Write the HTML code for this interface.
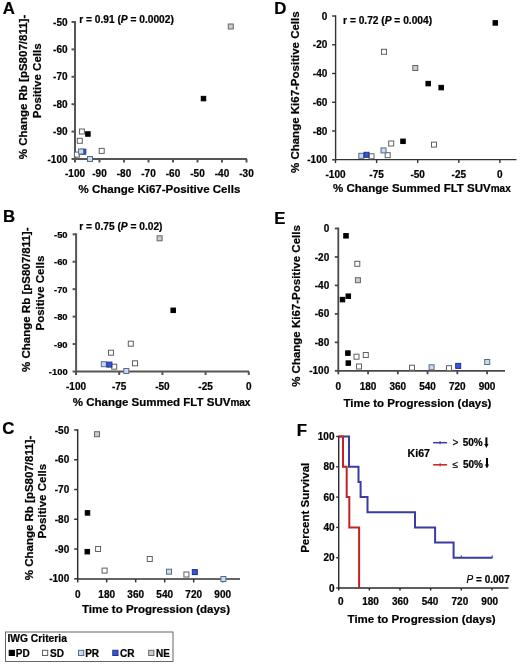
<!DOCTYPE html>
<html><head><meta charset="utf-8"><style>
html,body{margin:0;padding:0;background:#fff;}
svg{display:block;}
text{font-family:"Liberation Sans",sans-serif;fill:#000;stroke:#000;stroke-width:0.22px;}
</style></head><body>
<svg width="520" height="666" viewBox="0 0 520 666">
<defs><filter id="soft" filterUnits="userSpaceOnUse" x="0" y="0" width="520" height="666"><feGaussianBlur stdDeviation="0.35"/></filter></defs>
<rect width="520" height="666" fill="#fff"/>
<g filter="url(#soft)">
<text x="2.80" y="14.10" font-size="16.8" text-anchor="start" font-weight="bold" >A</text>
<text x="2.90" y="222.40" font-size="16.8" text-anchor="start" font-weight="bold" >B</text>
<text x="2.30" y="434.40" font-size="16.8" text-anchor="start" font-weight="bold" >C</text>
<text x="274.30" y="13.60" font-size="16.8" text-anchor="start" font-weight="bold" >D</text>
<text x="274.30" y="224.30" font-size="16.8" text-anchor="start" font-weight="bold" >E</text>
<text x="296.80" y="435.60" font-size="16.8" text-anchor="start" font-weight="bold" >F</text>
<line x1="75.00" y1="21.00" x2="75.00" y2="160.00" stroke="#555" stroke-width="2"/>
<line x1="74.00" y1="159.00" x2="247.00" y2="159.00" stroke="#555" stroke-width="2"/>
<line x1="71.50" y1="22.00" x2="75.00" y2="22.00" stroke="#555" stroke-width="2"/>
<text x="67.50" y="25.60" font-size="10" text-anchor="end" font-weight="bold" >-50</text>
<line x1="71.50" y1="49.40" x2="75.00" y2="49.40" stroke="#555" stroke-width="2"/>
<text x="67.50" y="53.00" font-size="10" text-anchor="end" font-weight="bold" >-60</text>
<line x1="71.50" y1="76.80" x2="75.00" y2="76.80" stroke="#555" stroke-width="2"/>
<text x="67.50" y="80.40" font-size="10" text-anchor="end" font-weight="bold" >-70</text>
<line x1="71.50" y1="104.20" x2="75.00" y2="104.20" stroke="#555" stroke-width="2"/>
<text x="67.50" y="107.80" font-size="10" text-anchor="end" font-weight="bold" >-80</text>
<line x1="71.50" y1="131.60" x2="75.00" y2="131.60" stroke="#555" stroke-width="2"/>
<text x="67.50" y="135.20" font-size="10" text-anchor="end" font-weight="bold" >-90</text>
<line x1="71.50" y1="159.00" x2="75.00" y2="159.00" stroke="#555" stroke-width="2"/>
<text x="67.50" y="162.60" font-size="10" text-anchor="end" font-weight="bold" >-100</text>
<line x1="75.00" y1="159.00" x2="75.00" y2="162.50" stroke="#555" stroke-width="2"/>
<text x="75.00" y="177.00" font-size="10" text-anchor="middle" font-weight="bold" >-100</text>
<line x1="99.50" y1="159.00" x2="99.50" y2="162.50" stroke="#555" stroke-width="2"/>
<text x="99.50" y="177.00" font-size="10" text-anchor="middle" font-weight="bold" >-90</text>
<line x1="124.00" y1="159.00" x2="124.00" y2="162.50" stroke="#555" stroke-width="2"/>
<text x="124.00" y="177.00" font-size="10" text-anchor="middle" font-weight="bold" >-80</text>
<line x1="148.50" y1="159.00" x2="148.50" y2="162.50" stroke="#555" stroke-width="2"/>
<text x="148.50" y="177.00" font-size="10" text-anchor="middle" font-weight="bold" >-70</text>
<line x1="173.00" y1="159.00" x2="173.00" y2="162.50" stroke="#555" stroke-width="2"/>
<text x="173.00" y="177.00" font-size="10" text-anchor="middle" font-weight="bold" >-60</text>
<line x1="197.50" y1="159.00" x2="197.50" y2="162.50" stroke="#555" stroke-width="2"/>
<text x="197.50" y="177.00" font-size="10" text-anchor="middle" font-weight="bold" >-50</text>
<line x1="222.00" y1="159.00" x2="222.00" y2="162.50" stroke="#555" stroke-width="2"/>
<text x="222.00" y="177.00" font-size="10" text-anchor="middle" font-weight="bold" >-40</text>
<line x1="246.50" y1="159.00" x2="246.50" y2="162.50" stroke="#555" stroke-width="2"/>
<text x="246.50" y="177.00" font-size="10" text-anchor="middle" font-weight="bold" >-30</text>
<text x="79.20" y="23.10" font-size="10.2" text-anchor="start" font-weight="bold" >r = 0.91 (<tspan font-style="italic">P</tspan> = 0.0002)</text>
<text x="78.60" y="193.00" font-size="11.5" text-anchor="start" font-weight="bold" >% Change Ki67-Positive Cells</text>
<text transform="translate(27.30,87.00) rotate(-90)" font-size="11.5" text-anchor="middle" font-weight="bold">% Change Rb [pS807/811]-</text>
<text transform="translate(40.60,80.80) rotate(-90)" font-size="11.5" text-anchor="middle" font-weight="bold">Positive Cells</text>
<rect x="79.40" y="129.00" width="5.00" height="5.00" fill="#ffffff" stroke="#606060" stroke-width="1"/>
<rect x="77.30" y="138.30" width="5.00" height="5.00" fill="#ffffff" stroke="#606060" stroke-width="1"/>
<rect x="74.40" y="152.10" width="5.00" height="5.00" fill="#ffffff" stroke="#606060" stroke-width="1"/>
<rect x="99.20" y="148.40" width="5.00" height="5.00" fill="#ffffff" stroke="#606060" stroke-width="1"/>
<rect x="85.65" y="131.75" width="4.50" height="4.50" fill="#000000" stroke="#000000" stroke-width="1"/>
<rect x="80.80" y="149.20" width="5.00" height="5.00" fill="#3557d4" stroke="#1f308e" stroke-width="1"/>
<rect x="78.50" y="149.00" width="5.00" height="5.00" fill="#c6dcf1" stroke="#596c86" stroke-width="1"/>
<rect x="87.50" y="156.50" width="5.00" height="5.00" fill="#c6dcf1" stroke="#596c86" stroke-width="1"/>
<rect x="228.30" y="24.00" width="5.00" height="5.00" fill="#cccccc" stroke="#666666" stroke-width="1"/>
<rect x="201.25" y="96.35" width="4.50" height="4.50" fill="#000000" stroke="#000000" stroke-width="1"/>
<line x1="76.10" y1="233.30" x2="76.10" y2="372.50" stroke="#555" stroke-width="2"/>
<line x1="75.10" y1="371.50" x2="249.00" y2="371.50" stroke="#555" stroke-width="2"/>
<line x1="72.60" y1="234.30" x2="76.10" y2="234.30" stroke="#555" stroke-width="2"/>
<text x="67.60" y="237.90" font-size="9.4" text-anchor="end" font-weight="bold" >-50</text>
<line x1="72.60" y1="261.74" x2="76.10" y2="261.74" stroke="#555" stroke-width="2"/>
<text x="67.60" y="265.34" font-size="9.4" text-anchor="end" font-weight="bold" >-60</text>
<line x1="72.60" y1="289.18" x2="76.10" y2="289.18" stroke="#555" stroke-width="2"/>
<text x="67.60" y="292.78" font-size="9.4" text-anchor="end" font-weight="bold" >-70</text>
<line x1="72.60" y1="316.62" x2="76.10" y2="316.62" stroke="#555" stroke-width="2"/>
<text x="67.60" y="320.22" font-size="9.4" text-anchor="end" font-weight="bold" >-80</text>
<line x1="72.60" y1="344.06" x2="76.10" y2="344.06" stroke="#555" stroke-width="2"/>
<text x="67.60" y="347.66" font-size="9.4" text-anchor="end" font-weight="bold" >-90</text>
<line x1="72.60" y1="371.50" x2="76.10" y2="371.50" stroke="#555" stroke-width="2"/>
<text x="67.60" y="375.10" font-size="9.4" text-anchor="end" font-weight="bold" >-100</text>
<line x1="76.00" y1="371.50" x2="76.00" y2="375.00" stroke="#555" stroke-width="2"/>
<text x="76.00" y="389.50" font-size="10" text-anchor="middle" font-weight="bold" >-100</text>
<line x1="119.20" y1="371.50" x2="119.20" y2="375.00" stroke="#555" stroke-width="2"/>
<text x="119.20" y="389.50" font-size="10" text-anchor="middle" font-weight="bold" >-75</text>
<line x1="162.40" y1="371.50" x2="162.40" y2="375.00" stroke="#555" stroke-width="2"/>
<text x="162.40" y="389.50" font-size="10" text-anchor="middle" font-weight="bold" >-50</text>
<line x1="205.60" y1="371.50" x2="205.60" y2="375.00" stroke="#555" stroke-width="2"/>
<text x="205.60" y="389.50" font-size="10" text-anchor="middle" font-weight="bold" >-25</text>
<line x1="248.80" y1="371.50" x2="248.80" y2="375.00" stroke="#555" stroke-width="2"/>
<text x="248.80" y="389.50" font-size="10" text-anchor="middle" font-weight="bold" >0</text>
<text x="79.20" y="229.80" font-size="10.2" text-anchor="start" font-weight="bold" >r = 0.75 (<tspan font-style="italic">P</tspan> = 0.02)</text>
<text x="72.80" y="405.80" font-size="11.5" text-anchor="start" font-weight="bold" >% Change Summed FLT SUV<tspan font-size="10">max</tspan></text>
<text transform="translate(30.40,299.70) rotate(-90)" font-size="11.5" text-anchor="middle" font-weight="bold">% Change Rb [pS807/811]-</text>
<text transform="translate(44.00,293.10) rotate(-90)" font-size="11.5" text-anchor="middle" font-weight="bold">Positive Cells</text>
<rect x="128.30" y="341.20" width="5.00" height="5.00" fill="#ffffff" stroke="#606060" stroke-width="1"/>
<rect x="108.50" y="350.20" width="5.00" height="5.00" fill="#ffffff" stroke="#606060" stroke-width="1"/>
<rect x="132.50" y="360.80" width="5.00" height="5.00" fill="#ffffff" stroke="#606060" stroke-width="1"/>
<rect x="101.30" y="361.70" width="5.00" height="5.00" fill="#c6dcf1" stroke="#596c86" stroke-width="1"/>
<rect x="111.70" y="364.20" width="5.00" height="5.00" fill="#ffffff" stroke="#606060" stroke-width="1"/>
<rect x="106.90" y="362.10" width="5.00" height="5.00" fill="#3557d4" stroke="#1f308e" stroke-width="1"/>
<rect x="123.80" y="368.50" width="5.00" height="5.00" fill="#c6dcf1" stroke="#596c86" stroke-width="1"/>
<rect x="170.95" y="308.05" width="4.50" height="4.50" fill="#000000" stroke="#000000" stroke-width="1"/>
<rect x="157.10" y="235.80" width="5.00" height="5.00" fill="#cccccc" stroke="#666666" stroke-width="1"/>
<line x1="77.70" y1="429.25" x2="77.70" y2="579.65" stroke="#333" stroke-width="1.5"/>
<line x1="76.95" y1="578.90" x2="240.00" y2="578.90" stroke="#333" stroke-width="1.5"/>
<line x1="74.20" y1="430.00" x2="77.70" y2="430.00" stroke="#333" stroke-width="1.5"/>
<text x="69.20" y="433.60" font-size="10" text-anchor="end" font-weight="bold" >-50</text>
<line x1="74.20" y1="459.76" x2="77.70" y2="459.76" stroke="#333" stroke-width="1.5"/>
<text x="69.20" y="463.36" font-size="10" text-anchor="end" font-weight="bold" >-60</text>
<line x1="74.20" y1="489.52" x2="77.70" y2="489.52" stroke="#333" stroke-width="1.5"/>
<text x="69.20" y="493.12" font-size="10" text-anchor="end" font-weight="bold" >-70</text>
<line x1="74.20" y1="519.28" x2="77.70" y2="519.28" stroke="#333" stroke-width="1.5"/>
<text x="69.20" y="522.88" font-size="10" text-anchor="end" font-weight="bold" >-80</text>
<line x1="74.20" y1="549.04" x2="77.70" y2="549.04" stroke="#333" stroke-width="1.5"/>
<text x="69.20" y="552.64" font-size="10" text-anchor="end" font-weight="bold" >-90</text>
<line x1="74.20" y1="578.80" x2="77.70" y2="578.80" stroke="#333" stroke-width="1.5"/>
<text x="69.20" y="582.40" font-size="10" text-anchor="end" font-weight="bold" >-100</text>
<line x1="77.70" y1="578.90" x2="77.70" y2="582.40" stroke="#333" stroke-width="1.5"/>
<text x="77.70" y="598.20" font-size="10" text-anchor="middle" font-weight="bold" >0</text>
<line x1="106.70" y1="578.90" x2="106.70" y2="582.40" stroke="#333" stroke-width="1.5"/>
<text x="106.70" y="598.20" font-size="10" text-anchor="middle" font-weight="bold" >180</text>
<line x1="135.70" y1="578.90" x2="135.70" y2="582.40" stroke="#333" stroke-width="1.5"/>
<text x="135.70" y="598.20" font-size="10" text-anchor="middle" font-weight="bold" >360</text>
<line x1="164.70" y1="578.90" x2="164.70" y2="582.40" stroke="#333" stroke-width="1.5"/>
<text x="164.70" y="598.20" font-size="10" text-anchor="middle" font-weight="bold" >540</text>
<line x1="193.70" y1="578.90" x2="193.70" y2="582.40" stroke="#333" stroke-width="1.5"/>
<text x="193.70" y="598.20" font-size="10" text-anchor="middle" font-weight="bold" >720</text>
<line x1="222.70" y1="578.90" x2="222.70" y2="582.40" stroke="#333" stroke-width="1.5"/>
<text x="222.70" y="598.20" font-size="10" text-anchor="middle" font-weight="bold" >900</text>
<text x="82.00" y="613.00" font-size="11.5" text-anchor="start" font-weight="bold" >Time to Progression (days)</text>
<text transform="translate(32.50,508.00) rotate(-90)" font-size="11.5" text-anchor="middle" font-weight="bold">% Change Rb [pS807/811]-</text>
<text transform="translate(46.00,501.20) rotate(-90)" font-size="11.5" text-anchor="middle" font-weight="bold">Positive Cells</text>
<rect x="94.50" y="431.70" width="5.00" height="5.00" fill="#cccccc" stroke="#666666" stroke-width="1"/>
<rect x="85.25" y="510.65" width="4.50" height="4.50" fill="#000000" stroke="#000000" stroke-width="1"/>
<rect x="85.05" y="549.45" width="4.50" height="4.50" fill="#000000" stroke="#000000" stroke-width="1"/>
<rect x="95.60" y="546.50" width="5.00" height="5.00" fill="#ffffff" stroke="#606060" stroke-width="1"/>
<rect x="102.10" y="568.10" width="5.00" height="5.00" fill="#ffffff" stroke="#606060" stroke-width="1"/>
<rect x="147.30" y="556.50" width="5.00" height="5.00" fill="#ffffff" stroke="#606060" stroke-width="1"/>
<rect x="166.50" y="569.20" width="5.00" height="5.00" fill="#c6dcf1" stroke="#596c86" stroke-width="1"/>
<rect x="183.90" y="572.00" width="5.00" height="5.00" fill="#ffffff" stroke="#606060" stroke-width="1"/>
<rect x="192.30" y="569.60" width="5.00" height="5.00" fill="#3557d4" stroke="#1f308e" stroke-width="1"/>
<rect x="220.90" y="576.50" width="5.00" height="5.00" fill="#c6dcf1" stroke="#596c86" stroke-width="1"/>
<line x1="335.60" y1="15.30" x2="335.60" y2="160.30" stroke="#333" stroke-width="1.4"/>
<line x1="334.90" y1="159.60" x2="516.50" y2="159.60" stroke="#333" stroke-width="1.4"/>
<line x1="332.10" y1="16.00" x2="335.60" y2="16.00" stroke="#333" stroke-width="1.4"/>
<text x="327.30" y="19.60" font-size="10" text-anchor="end" font-weight="bold" >0</text>
<line x1="332.10" y1="44.76" x2="335.60" y2="44.76" stroke="#333" stroke-width="1.4"/>
<text x="327.30" y="48.36" font-size="10" text-anchor="end" font-weight="bold" >-20</text>
<line x1="332.10" y1="73.52" x2="335.60" y2="73.52" stroke="#333" stroke-width="1.4"/>
<text x="327.30" y="77.12" font-size="10" text-anchor="end" font-weight="bold" >-40</text>
<line x1="332.10" y1="102.28" x2="335.60" y2="102.28" stroke="#333" stroke-width="1.4"/>
<text x="327.30" y="105.88" font-size="10" text-anchor="end" font-weight="bold" >-60</text>
<line x1="332.10" y1="131.04" x2="335.60" y2="131.04" stroke="#333" stroke-width="1.4"/>
<text x="327.30" y="134.64" font-size="10" text-anchor="end" font-weight="bold" >-80</text>
<line x1="332.10" y1="159.80" x2="335.60" y2="159.80" stroke="#333" stroke-width="1.4"/>
<text x="327.30" y="163.40" font-size="10" text-anchor="end" font-weight="bold" >-100</text>
<line x1="335.50" y1="159.60" x2="335.50" y2="163.10" stroke="#333" stroke-width="1.4"/>
<text x="335.50" y="178.00" font-size="10" text-anchor="middle" font-weight="bold" >-100</text>
<line x1="376.60" y1="159.60" x2="376.60" y2="163.10" stroke="#333" stroke-width="1.4"/>
<text x="376.60" y="178.00" font-size="10" text-anchor="middle" font-weight="bold" >-75</text>
<line x1="417.70" y1="159.60" x2="417.70" y2="163.10" stroke="#333" stroke-width="1.4"/>
<text x="417.70" y="178.00" font-size="10" text-anchor="middle" font-weight="bold" >-50</text>
<line x1="458.80" y1="159.60" x2="458.80" y2="163.10" stroke="#333" stroke-width="1.4"/>
<text x="458.80" y="178.00" font-size="10" text-anchor="middle" font-weight="bold" >-25</text>
<line x1="499.90" y1="159.60" x2="499.90" y2="163.10" stroke="#333" stroke-width="1.4"/>
<text x="499.90" y="178.00" font-size="10" text-anchor="middle" font-weight="bold" >0</text>
<text x="343.10" y="23.70" font-size="10.2" text-anchor="start" font-weight="bold" >r = 0.72 (<tspan font-style="italic">P</tspan> = 0.004)</text>
<text x="333.10" y="192.40" font-size="11.5" text-anchor="start" font-weight="bold" >% Change Summed FLT SUV<tspan font-size="10">max</tspan></text>
<text transform="translate(299.00,92.20) rotate(-90)" font-size="11.5" text-anchor="middle" font-weight="bold">% Change Ki67-Positive Cells</text>
<rect x="381.50" y="49.30" width="5.00" height="5.00" fill="#ffffff" stroke="#606060" stroke-width="1"/>
<rect x="388.70" y="141.00" width="5.00" height="5.00" fill="#ffffff" stroke="#606060" stroke-width="1"/>
<rect x="431.50" y="142.10" width="5.00" height="5.00" fill="#ffffff" stroke="#606060" stroke-width="1"/>
<rect x="369.00" y="153.80" width="5.00" height="5.00" fill="#ffffff" stroke="#606060" stroke-width="1"/>
<rect x="385.20" y="152.70" width="5.00" height="5.00" fill="#ffffff" stroke="#606060" stroke-width="1"/>
<rect x="358.80" y="153.30" width="5.00" height="5.00" fill="#c6dcf1" stroke="#596c86" stroke-width="1"/>
<rect x="364.00" y="152.30" width="5.00" height="5.00" fill="#3557d4" stroke="#1f308e" stroke-width="1"/>
<rect x="381.00" y="147.90" width="5.00" height="5.00" fill="#c6dcf1" stroke="#596c86" stroke-width="1"/>
<rect x="400.75" y="139.05" width="4.50" height="4.50" fill="#000000" stroke="#000000" stroke-width="1"/>
<rect x="493.05" y="20.65" width="4.50" height="4.50" fill="#000000" stroke="#000000" stroke-width="1"/>
<rect x="412.80" y="65.50" width="5.00" height="5.00" fill="#cccccc" stroke="#666666" stroke-width="1"/>
<rect x="425.95" y="81.35" width="4.50" height="4.50" fill="#000000" stroke="#000000" stroke-width="1"/>
<rect x="438.95" y="85.35" width="4.50" height="4.50" fill="#000000" stroke="#000000" stroke-width="1"/>
<line x1="338.30" y1="227.60" x2="338.30" y2="371.70" stroke="#4a4a4a" stroke-width="1.8"/>
<line x1="337.40" y1="370.80" x2="505.00" y2="370.80" stroke="#4a4a4a" stroke-width="1.8"/>
<line x1="334.80" y1="228.50" x2="338.30" y2="228.50" stroke="#4a4a4a" stroke-width="1.8"/>
<text x="329.20" y="232.10" font-size="10" text-anchor="end" font-weight="bold" >0</text>
<line x1="334.80" y1="256.96" x2="338.30" y2="256.96" stroke="#4a4a4a" stroke-width="1.8"/>
<text x="329.20" y="260.56" font-size="10" text-anchor="end" font-weight="bold" >-20</text>
<line x1="334.80" y1="285.42" x2="338.30" y2="285.42" stroke="#4a4a4a" stroke-width="1.8"/>
<text x="329.20" y="289.02" font-size="10" text-anchor="end" font-weight="bold" >-40</text>
<line x1="334.80" y1="313.88" x2="338.30" y2="313.88" stroke="#4a4a4a" stroke-width="1.8"/>
<text x="329.20" y="317.48" font-size="10" text-anchor="end" font-weight="bold" >-60</text>
<line x1="334.80" y1="342.34" x2="338.30" y2="342.34" stroke="#4a4a4a" stroke-width="1.8"/>
<text x="329.20" y="345.94" font-size="10" text-anchor="end" font-weight="bold" >-80</text>
<line x1="334.80" y1="370.80" x2="338.30" y2="370.80" stroke="#4a4a4a" stroke-width="1.8"/>
<text x="329.20" y="374.40" font-size="10" text-anchor="end" font-weight="bold" >-100</text>
<line x1="338.30" y1="370.80" x2="338.30" y2="374.30" stroke="#4a4a4a" stroke-width="1.8"/>
<text x="338.30" y="390.20" font-size="10" text-anchor="middle" font-weight="bold" >0</text>
<line x1="368.06" y1="370.80" x2="368.06" y2="374.30" stroke="#4a4a4a" stroke-width="1.8"/>
<text x="368.06" y="390.20" font-size="10" text-anchor="middle" font-weight="bold" >180</text>
<line x1="397.82" y1="370.80" x2="397.82" y2="374.30" stroke="#4a4a4a" stroke-width="1.8"/>
<text x="397.82" y="390.20" font-size="10" text-anchor="middle" font-weight="bold" >360</text>
<line x1="427.58" y1="370.80" x2="427.58" y2="374.30" stroke="#4a4a4a" stroke-width="1.8"/>
<text x="427.58" y="390.20" font-size="10" text-anchor="middle" font-weight="bold" >540</text>
<line x1="457.34" y1="370.80" x2="457.34" y2="374.30" stroke="#4a4a4a" stroke-width="1.8"/>
<text x="457.34" y="390.20" font-size="10" text-anchor="middle" font-weight="bold" >720</text>
<line x1="487.10" y1="370.80" x2="487.10" y2="374.30" stroke="#4a4a4a" stroke-width="1.8"/>
<text x="487.10" y="390.20" font-size="10" text-anchor="middle" font-weight="bold" >900</text>
<text x="343.40" y="406.70" font-size="11.5" text-anchor="start" font-weight="bold" >Time to Progression (days)</text>
<text transform="translate(300.00,306.00) rotate(-90)" font-size="11.5" text-anchor="middle" font-weight="bold">% Change Ki67-Positive Cells</text>
<rect x="343.75" y="233.55" width="4.50" height="4.50" fill="#000000" stroke="#000000" stroke-width="1"/>
<rect x="354.80" y="261.30" width="5.00" height="5.00" fill="#ffffff" stroke="#606060" stroke-width="1"/>
<rect x="355.40" y="277.70" width="5.00" height="5.00" fill="#cccccc" stroke="#666666" stroke-width="1"/>
<rect x="340.25" y="297.35" width="4.50" height="4.50" fill="#000000" stroke="#000000" stroke-width="1"/>
<rect x="346.05" y="293.95" width="4.50" height="4.50" fill="#000000" stroke="#000000" stroke-width="1"/>
<rect x="345.65" y="350.85" width="4.50" height="4.50" fill="#000000" stroke="#000000" stroke-width="1"/>
<rect x="346.05" y="360.85" width="4.50" height="4.50" fill="#000000" stroke="#000000" stroke-width="1"/>
<rect x="354.00" y="354.20" width="5.00" height="5.00" fill="#ffffff" stroke="#606060" stroke-width="1"/>
<rect x="363.30" y="352.50" width="5.00" height="5.00" fill="#ffffff" stroke="#606060" stroke-width="1"/>
<rect x="356.50" y="364.00" width="5.00" height="5.00" fill="#ffffff" stroke="#606060" stroke-width="1"/>
<rect x="409.50" y="365.20" width="5.00" height="5.00" fill="#ffffff" stroke="#606060" stroke-width="1"/>
<rect x="429.10" y="364.80" width="5.00" height="5.00" fill="#c6dcf1" stroke="#596c86" stroke-width="1"/>
<rect x="446.50" y="365.70" width="5.00" height="5.00" fill="#ffffff" stroke="#606060" stroke-width="1"/>
<rect x="455.70" y="363.40" width="5.00" height="5.00" fill="#3557d4" stroke="#1f308e" stroke-width="1"/>
<rect x="484.70" y="359.50" width="5.00" height="5.00" fill="#c6dcf1" stroke="#596c86" stroke-width="1"/>
<line x1="338.70" y1="435.80" x2="338.70" y2="588.70" stroke="#2a2a2a" stroke-width="1.4"/>
<line x1="338.00" y1="588.00" x2="508.50" y2="588.00" stroke="#2a2a2a" stroke-width="1.4"/>
<line x1="336.20" y1="436.50" x2="338.70" y2="436.50" stroke="#2a2a2a" stroke-width="1.4"/>
<text x="334.50" y="440.10" font-size="10" text-anchor="end" font-weight="bold" >100</text>
<line x1="336.20" y1="466.80" x2="338.70" y2="466.80" stroke="#2a2a2a" stroke-width="1.4"/>
<text x="334.50" y="470.40" font-size="10" text-anchor="end" font-weight="bold" >80</text>
<line x1="336.20" y1="497.10" x2="338.70" y2="497.10" stroke="#2a2a2a" stroke-width="1.4"/>
<text x="334.50" y="500.70" font-size="10" text-anchor="end" font-weight="bold" >60</text>
<line x1="336.20" y1="527.40" x2="338.70" y2="527.40" stroke="#2a2a2a" stroke-width="1.4"/>
<text x="334.50" y="531.00" font-size="10" text-anchor="end" font-weight="bold" >40</text>
<line x1="336.20" y1="557.70" x2="338.70" y2="557.70" stroke="#2a2a2a" stroke-width="1.4"/>
<text x="334.50" y="561.30" font-size="10" text-anchor="end" font-weight="bold" >20</text>
<line x1="336.20" y1="588.00" x2="338.70" y2="588.00" stroke="#2a2a2a" stroke-width="1.4"/>
<text x="334.50" y="591.60" font-size="10" text-anchor="end" font-weight="bold" >0</text>
<line x1="338.70" y1="588.00" x2="338.70" y2="590.50" stroke="#2a2a2a" stroke-width="1.4"/>
<text x="338.70" y="605.20" font-size="10" text-anchor="middle" font-weight="bold" ></text>
<line x1="369.35" y1="588.00" x2="369.35" y2="590.50" stroke="#2a2a2a" stroke-width="1.4"/>
<text x="369.35" y="605.20" font-size="10" text-anchor="middle" font-weight="bold" ></text>
<line x1="400.00" y1="588.00" x2="400.00" y2="590.50" stroke="#2a2a2a" stroke-width="1.4"/>
<text x="400.00" y="605.20" font-size="10" text-anchor="middle" font-weight="bold" ></text>
<line x1="430.65" y1="588.00" x2="430.65" y2="590.50" stroke="#2a2a2a" stroke-width="1.4"/>
<text x="430.65" y="605.20" font-size="10" text-anchor="middle" font-weight="bold" ></text>
<line x1="461.30" y1="588.00" x2="461.30" y2="590.50" stroke="#2a2a2a" stroke-width="1.4"/>
<text x="461.30" y="605.20" font-size="10" text-anchor="middle" font-weight="bold" ></text>
<line x1="491.95" y1="588.00" x2="491.95" y2="590.50" stroke="#2a2a2a" stroke-width="1.4"/>
<text x="491.95" y="605.20" font-size="10" text-anchor="middle" font-weight="bold" ></text>
<text x="340.70" y="605.20" font-size="10" text-anchor="middle" font-weight="bold" >0</text>
<text x="370.50" y="605.20" font-size="10" text-anchor="middle" font-weight="bold" >180</text>
<text x="400.30" y="605.20" font-size="10" text-anchor="middle" font-weight="bold" >360</text>
<text x="430.10" y="605.20" font-size="10" text-anchor="middle" font-weight="bold" >540</text>
<text x="459.90" y="605.20" font-size="10" text-anchor="middle" font-weight="bold" >720</text>
<text x="489.70" y="605.20" font-size="10" text-anchor="middle" font-weight="bold" >900</text>
<polyline fill="none" stroke-width="2" stroke-linejoin="miter" stroke="#3a3aa6" points="338.70,436.50 349.00,436.50 349.00,466.80 358.50,466.80 358.50,481.95 360.60,481.95 360.60,497.10 367.50,497.10 367.50,512.25 415.00,512.25 415.00,527.40 435.10,527.40 435.10,542.55 453.60,542.55 453.60,557.70 492.40,557.70"/>
<polyline fill="none" stroke-width="2" stroke-linejoin="miter" stroke="#c42424" points="338.70,436.50 343.00,436.50 343.00,466.80 346.70,466.80 346.70,497.10 349.30,497.10 349.30,527.40 359.10,527.40 359.10,588.00"/>
<line x1="461.30" y1="555.50" x2="461.30" y2="557.70" stroke="#3a3aa6" stroke-width="1.2"/>
<line x1="492.20" y1="555.50" x2="492.20" y2="557.70" stroke="#3a3aa6" stroke-width="1.2"/>
<line x1="433.10" y1="442.70" x2="447.10" y2="442.70" stroke="#3a3aa6" stroke-width="1.5"/>
<line x1="440.10" y1="441.00" x2="440.10" y2="444.40" stroke="#3a3aa6" stroke-width="1"/>
<line x1="433.10" y1="464.80" x2="447.10" y2="464.80" stroke="#c42424" stroke-width="1.5"/>
<line x1="440.10" y1="463.10" x2="440.10" y2="466.50" stroke="#c42424" stroke-width="1"/>
<text x="452.60" y="446.20" font-size="10" text-anchor="start" font-weight="normal" >&gt;</text>
<text x="462.70" y="446.40" font-size="10" text-anchor="start" font-weight="bold" >50%</text>
<text x="452.60" y="468.10" font-size="10" text-anchor="start" font-weight="normal" >&#8804;</text>
<text x="462.90" y="468.40" font-size="10" text-anchor="start" font-weight="bold" >50%</text>
<path d="M486.4,437.40 V444.80" stroke="#000" stroke-width="2"/>
<path d="M484.29999999999995,444.00 L486.4,447.90 L488.5,444.00 Z" fill="#000"/>
<path d="M487.0,458.00 V465.40" stroke="#000" stroke-width="2"/>
<path d="M484.9,464.60 L487.0,468.50 L489.1,464.60 Z" fill="#000"/>
<text x="407.60" y="456.80" font-size="10.6" text-anchor="start" font-weight="bold" >Ki67</text>
<text x="509.70" y="582.50" font-size="10" text-anchor="end" font-weight="bold" ><tspan font-style="italic" font-weight="normal">P</tspan> = 0.007</text>
<text x="347.60" y="622.90" font-size="11.5" text-anchor="start" font-weight="bold" >Time to Progression (days)</text>
<text transform="translate(309.00,507.80) rotate(-90)" font-size="11.5" text-anchor="middle" font-weight="bold">Percent Survival</text>
<rect x="5.5" y="632" width="167.5" height="29.5" fill="#fff" stroke="#666" stroke-width="1"/>
<text x="7.40" y="641.60" font-size="10.3" text-anchor="start" font-weight="bold" >IWG Criteria</text>
<rect x="9.20" y="650.30" width="5.20" height="5.20" fill="#000000" stroke="#000000" stroke-width="1"/>
<text x="15.80" y="656.60" font-size="10" text-anchor="start" font-weight="bold" >PD</text>
<rect x="42.50" y="650.30" width="5.20" height="5.20" fill="#ffffff" stroke="#606060" stroke-width="1"/>
<text x="50.10" y="656.60" font-size="10" text-anchor="start" font-weight="bold" >SD</text>
<rect x="78.50" y="650.30" width="5.20" height="5.20" fill="#c6dcf1" stroke="#596c86" stroke-width="1"/>
<text x="85.20" y="656.60" font-size="10" text-anchor="start" font-weight="bold" >PR</text>
<rect x="112.80" y="650.30" width="5.20" height="5.20" fill="#3557d4" stroke="#1f308e" stroke-width="1"/>
<text x="120.10" y="656.60" font-size="10" text-anchor="start" font-weight="bold" >CR</text>
<rect x="148.70" y="650.30" width="5.20" height="5.20" fill="#cccccc" stroke="#666666" stroke-width="1"/>
<text x="156.00" y="656.60" font-size="10" text-anchor="start" font-weight="bold" >NE</text>
</g>
</svg>
</body></html>
